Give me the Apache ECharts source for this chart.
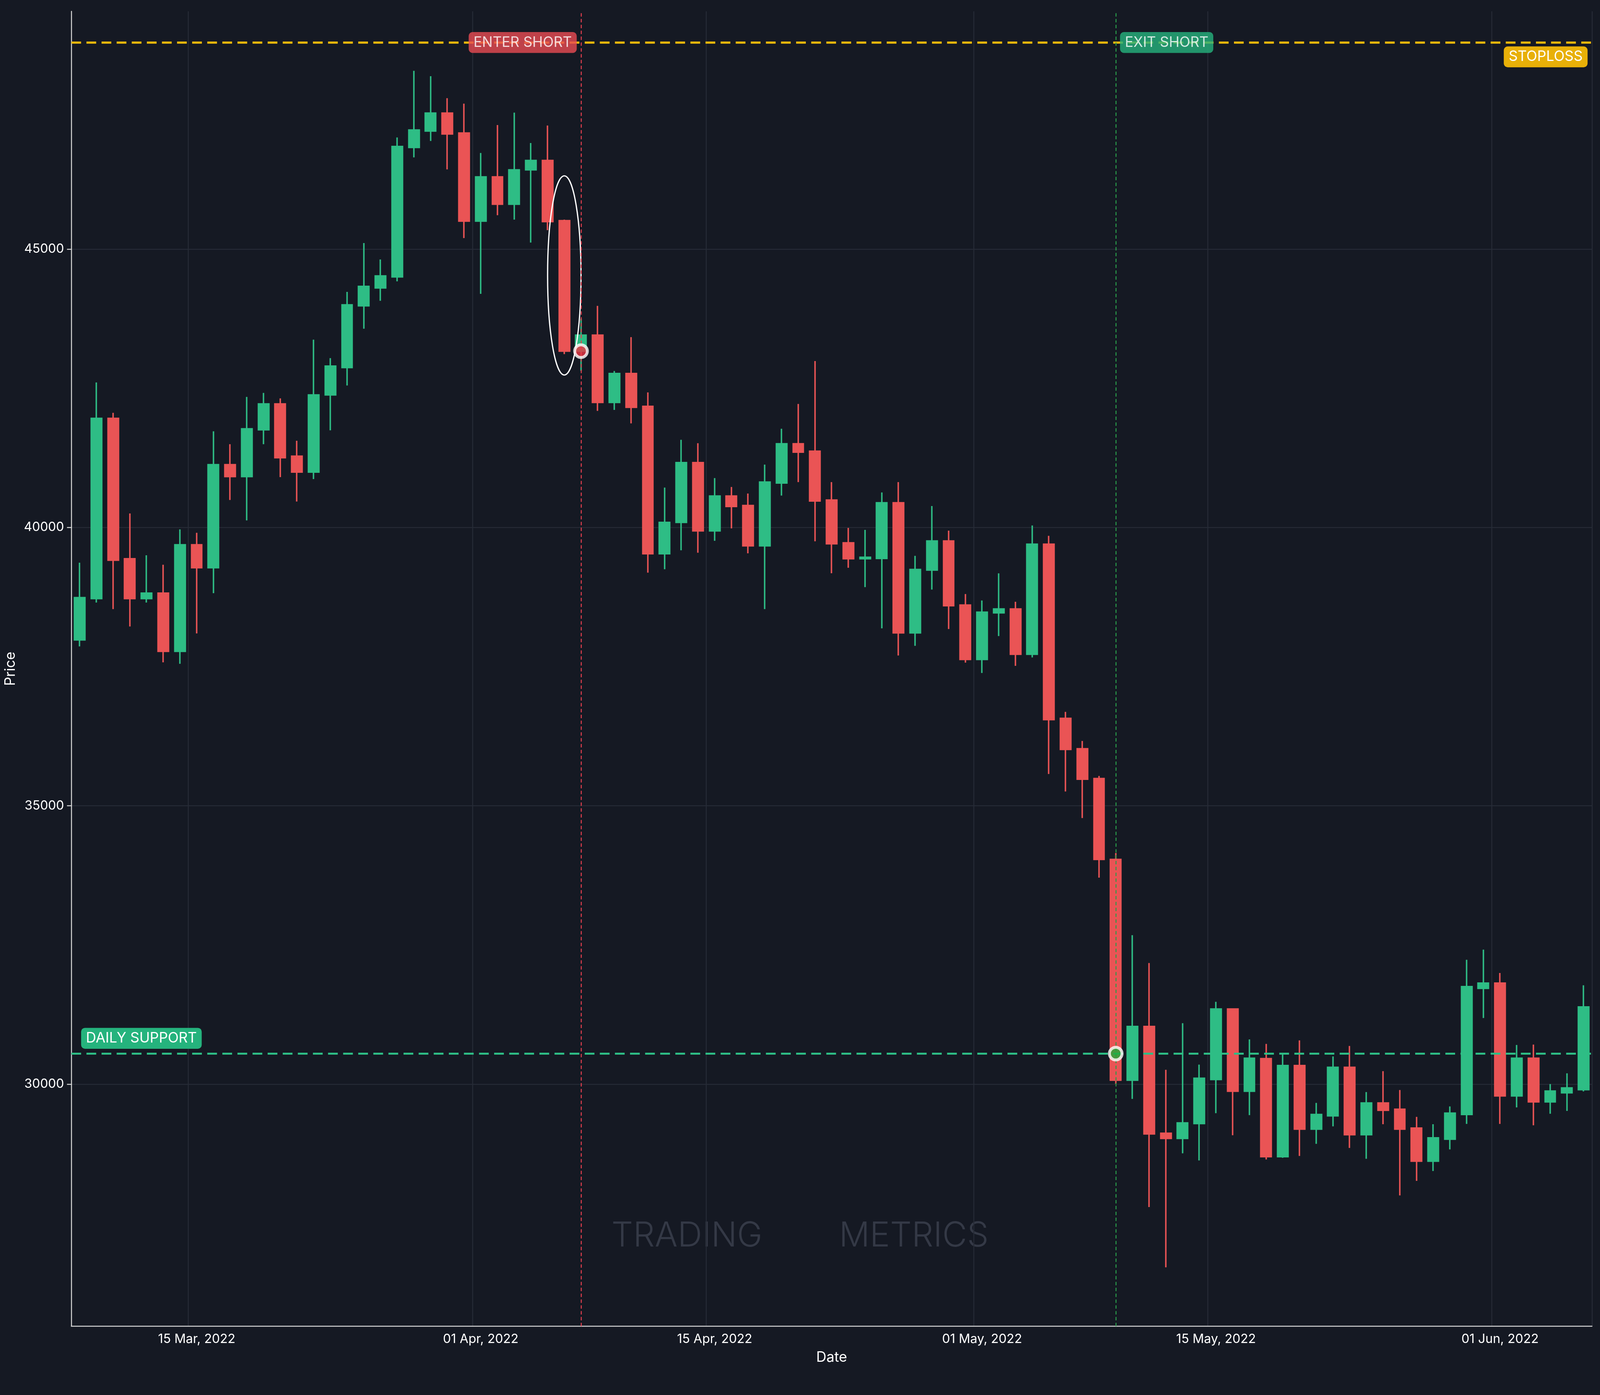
<!DOCTYPE html>
<html><head><meta charset="utf-8">
<script src="https://cdn.jsdelivr.net/npm/echarts@6/dist/echarts.min.js"></script>
<style>html,body{margin:0;padding:0;background:#151923;overflow:hidden}#c{width:100vw;height:100vh}</style>
</head><body><div id="c"></div>
<script>
const startDate = '2022-03-08';
const dayCount = 91;
const opens  = [37979,38721,41959,39437,38721,38819,37773,39687,39275,41127,40912,41753,42218,41279,40993,42379,42871,43980,44302,44499,46825,47120,47442,47084,45501,46297,45805,46422,46592,45510,43166,43453,42245,42764,42174,39526,40089,41163,39937,40563,40394,39669,40796,41503,41369,40492,39723,39437,39442,40442,38105,39233,39756,38605,37628,38465,38535,37721,39698,36570,36023,35488,34035,30070,31035,29116,29023,29291,30081,31349,29872,30458,28695,30333,29191,29429,30301,29090,29661,29548,29210,28614,29009,29454,31719,31813,29787,30464,29680,29843,29900];
const closes = [38739,41959,39410,38721,38819,37773,39687,39275,41127,40912,41771,42218,41252,40993,42379,42898,43998,44329,44517,46843,47138,47442,47066,45501,46297,45805,46422,46592,45492,43166,43453,42245,42764,42156,39526,40089,41163,39937,40563,40376,39669,40814,41503,41351,40474,39705,39437,39463,40442,38105,39244,39756,38593,37628,38477,38535,37721,39698,36547,36012,35477,34035,30070,31035,29105,29023,29302,30105,31349,29872,30465,28695,30333,29191,29454,30301,29090,29661,29529,29191,28614,29034,29479,31750,31813,29787,30464,29680,29875,29931,31386];
const lows   = [37862,38649,38533,38220,38649,37576,37549,38095,38819,40492,40125,41494,40903,40465,40868,41744,42549,43569,44070,44419,46646,46941,46431,45197,44195,45608,45528,45116,45340,43113,42809,42093,42111,41869,39186,39249,39589,39544,39758,39982,39535,38533,40572,40814,39750,39177,39275,38927,38186,37698,37872,38884,38174,37570,37384,38047,37512,37663,35570,35256,34779,33709,30000,29733,27791,26709,28756,28628,29477,29081,29442,28645,28676,28708,28927,29241,28852,28657,29279,27999,28262,28438,28827,29285,31186,29285,29580,29260,29467,29517,29868];
const highs  = [39365,42603,42057,40250,39499,39329,39964,39902,41726,41494,42343,42415,42317,41556,43372,43041,44231,45107,44812,47004,48202,48104,47710,47612,46726,47227,47451,46905,47218,45528,43748,43980,42809,43417,42424,40716,41574,41512,40886,40725,40608,41127,41771,42218,42987,40814,39991,39955,40628,40814,39488,40384,39942,38802,38686,39174,38663,40035,39849,36686,36163,35535,34150,32674,32174,30256,31093,30349,31477,31349,30802,30721,30552,30784,29661,30496,30684,29856,30232,29893,29410,29279,29598,32233,32415,31995,30703,30709,30000,30194,31775];
const xTickDates = ['2022-03-15','2022-04-01','2022-04-15','2022-05-01','2022-05-15','2022-06-01'];
const yTicks = [30000,35000,40000,45000];
const stopLoss = 48710;
const dailySupport = 30547;
const entryDate = '2022-04-07', entryPrice = 43166;
const exitDate = '2022-05-09', exitPrice = 30547;
const highlightDate = '2022-04-06', highlightHigh = 46315, highlightLow = 42737;

const dates = [];
{ const d0 = new Date(startDate + 'T00:00:00Z');
  for (let i = 0; i < dayCount; i++) { const d = new Date(d0.getTime() + i * 86400000); dates.push(d.toISOString().slice(0,10)); } }
const ohlc = dates.map((d,i)=>[opens[i],closes[i],lows[i],highs[i]]);
const months = ['Jan','Feb','Mar','Apr','May','Jun','Jul','Aug','Sep','Oct','Nov','Dec'];
const fmtDate = s => s.slice(8,10) + ' ' + months[+s.slice(5,7)-1] + ', ' + s.slice(0,4);
const isTick = (i, v) => xTickDates.includes(v);
const GREEN = '#2ebd85', RED = '#ea5455', YEL = '#f0b90b', FONT = 'Inter, "DejaVu Sans", sans-serif';

const el = document.getElementById('c');
const W = el.clientWidth || 6570, H = el.clientHeight || 3570;
const k = W / 6570, kh = H / 3570;
const lbl = (bg) => ({ color: '#fff', fontSize: 58*k, backgroundColor: bg, padding: [14*k, 20*k], borderRadius: 16*k });
const chart = echarts.init(el);
chart.setOption({
  backgroundColor: '#151923',
  animation: false,
  textStyle: { fontFamily: FONT },
  grid: { left: 293*k, right: 33*k, top: 29*kh, bottom: 176*kh },
  xAxis: {
    type: 'category', data: dates, boundaryGap: true,
    name: 'Date', nameLocation: 'middle', nameGap: 100*k,
    nameTextStyle: { color: '#ffffff', fontSize: 58*k, fontFamily: FONT },
    axisLine: { lineStyle: { color: '#d8d8d8', width: 4*k } },
    axisTick: { interval: isTick, alignWithLabel: true, length: 18*k, lineStyle: { color: '#d8d8d8', width: 4*k } },
    axisLabel: { interval: isTick, formatter: fmtDate, color: '#ffffff', fontSize: 52*k, margin: 28*k },
    splitLine: { show: true, interval: isTick, lineStyle: { color: '#262b36', width: 4*k } }
  },
  yAxis: {
    type: 'value', min: 25650, max: 49270, scale: true,
    name: 'Price', nameLocation: 'middle', nameGap: 220*k, nameRotate: 90,
    nameTextStyle: { color: '#ffffff', fontSize: 58*k, fontFamily: FONT },
    axisLine: { show: true, lineStyle: { color: '#d8d8d8', width: 4*k } },
    axisTick: { show: true, customValues: yTicks, length: 18*k, lineStyle: { color: '#d8d8d8', width: 4*k } },
    axisLabel: { customValues: yTicks, formatter: v => String(v), color: '#ffffff', fontSize: 52*k, margin: 30*k },
    splitLine: { show: true, lineStyle: { color: '#262b36', width: 4*k } }
  },
  graphic: [{
    type: 'text', left: 'center', top: 3120*kh, z: 0, silent: true,
    style: { text: 'TRADING        METRICS', fill: '#343946', font: '300 ' + (140*k) + 'px ' + FONT }
  }],
  series: [
    {
      type: 'candlestick', data: ohlc, barWidth: '64%', z: 3,
      itemStyle: { color: GREEN, color0: RED, borderColor: GREEN, borderColor0: RED, borderWidth: 6*k },
      markLine: {
        symbol: 'none', silent: true,
        data: [
          { yAxis: stopLoss, lineStyle: { color: YEL, type: [40*k, 22*k], width: 9*k },
            label: Object.assign({ show: true, position: 'insideEndBottom', formatter: 'STOPLOSS', distance: [18*k, 16*k] }, lbl('#e8b008')) },
          { yAxis: dailySupport, lineStyle: { color: GREEN, type: [40*k, 22*k], width: 8*k },
            label: Object.assign({ show: true, position: 'insideStartTop', formatter: 'DAILY SUPPORT', distance: [40*k, 20*k] }, lbl('#25b37d')) },
          { xAxis: entryDate, lineStyle: { color: '#e8404f', type: [14*k, 10*k], width: 4*k }, label: { show: false } },
          { xAxis: exitDate, lineStyle: { color: '#2a9d4a', type: [14*k, 10*k], width: 4*k }, label: { show: false } }
        ]
      }
    },
    {
      type: 'custom', z: 4, silent: true,
      data: [[highlightDate, highlightHigh, highlightLow]],
      renderItem: (params, api) => {
        const top = api.coord([api.value(0), api.value(1)]);
        const bot = api.coord([api.value(0), api.value(2)]);
        const w = api.size([1, 0])[0];
        return { type: 'ellipse', shape: { cx: top[0], cy: (top[1] + bot[1]) / 2, rx: w * 1.0, ry: (bot[1] - top[1]) / 2 },
                 style: { fill: 'none', stroke: '#ffffff', lineWidth: 5*k } };
      }
    },
    {
      type: 'scatter', z: 6, silent: true, symbolSize: 52*k,
      data: [
        { value: [entryDate, entryPrice], itemStyle: { color: '#ee3443', borderColor: '#fff', borderWidth: 12*k } },
        { value: [exitDate, exitPrice], itemStyle: { color: '#1faa3a', borderColor: '#fff', borderWidth: 12*k } }
      ]
    },
    {
      type: 'scatter', z: 7, silent: true, symbolSize: 2, itemStyle: { color: 'rgba(0,0,0,0)' },
      labelLayout: { hideOverlap: false },
      data: [
        { value: [entryDate, stopLoss], label: Object.assign({ show: true, position: 'left', distance: 16*k, offset: [0, 16*k], formatter: 'ENTER SHORT' }, lbl('#ea4b52')) },
        { value: [exitDate, stopLoss], label: Object.assign({ show: true, position: 'right', distance: 16*k, offset: [0, 16*k], formatter: 'EXIT SHORT' }, lbl('#25b37d')) }
      ]
    }
  ]
});
</script></body></html>
